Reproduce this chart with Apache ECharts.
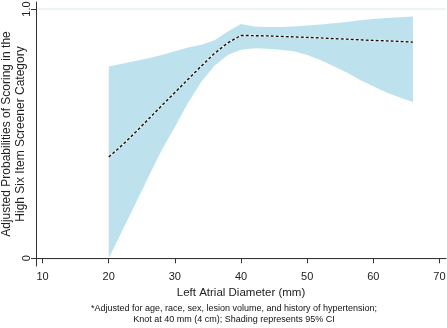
<!DOCTYPE html>
<html>
<head>
<meta charset="utf-8">
<style>
  html, body { margin: 0; padding: 0; background: #fff; }
  #chart { width: 447px; height: 328px; }
</style>
<script src="https://cdn.jsdelivr.net/npm/echarts@6/dist/echarts.min.js"></script>
</head>
<body>
<div id="chart"></div>
<script>
// left atrial diameter (mm)
const diameters = [20, 22, 24, 26, 28, 30, 32, 34, 36, 38, 40, 42, 44, 46, 48, 50, 52, 54, 56, 58, 60, 62, 64, 66];
// adjusted probability (point estimate)
const probability = [0.406, 0.453, 0.504, 0.558, 0.612, 0.665, 0.718, 0.771, 0.822, 0.864, 0.894, 0.893, 0.892, 0.890, 0.888, 0.886, 0.884, 0.881, 0.879, 0.876, 0.874, 0.872, 0.870, 0.867];
// 95% CI
const ciLower = [0.0, 0.108, 0.217, 0.326, 0.433, 0.527, 0.624, 0.708, 0.772, 0.815, 0.836, 0.842, 0.840, 0.836, 0.830, 0.815, 0.795, 0.770, 0.745, 0.715, 0.690, 0.665, 0.645, 0.627];
const ciUpper = [0.769, 0.780, 0.791, 0.802, 0.815, 0.830, 0.845, 0.857, 0.875, 0.910, 0.940, 0.930, 0.928, 0.928, 0.930, 0.934, 0.938, 0.943, 0.948, 0.955, 0.960, 0.964, 0.967, 0.970];

const xTicks = [10, 20, 30, 40, 50, 60, 70];
const yTicks = [0, 1];

const pair = (ys) => diameters.map((x, i) => [x, ys[i]]);
const ciRows = diameters.map((x, i) => [x, ciLower[i], ciUpper[i]]);

const font = 'Liberation Sans, Arial, sans-serif';
const chart = echarts.init(document.getElementById('chart'));

// shaded CI band drawn as one polygon through the axis scales
function renderBand(params, api) {
  if (params.dataIndex !== 0) return null;
  const upper = ciRows.map((r) => api.coord([r[0], r[2]]));
  const lower = ciRows.map((r) => api.coord([r[0], r[1]])).reverse();
  return {
    type: 'polygon',
    shape: { points: upper.concat(lower) },
    style: { fill: '#bee2ed' },
    silent: true,
  };
}

chart.setOption({
  animation: false,
  textStyle: { fontFamily: font },
  grid: { left: 36, right: 1, top: 2, bottom: 62, containLabel: false, outerBoundsMode: 'none' },
  xAxis: {
    type: 'value',
    min: 9,
    max: 71,
    name: 'Left Atrial Diameter (mm)',
    nameLocation: 'middle',
    nameGap: 21,
    nameMoveOverlap: false,
    nameTextStyle: { fontSize: 11.5, color: '#222', fontFamily: font },
    axisLine: { lineStyle: { color: '#333', width: 1 } },
    axisTick: { customValues: xTicks, length: 5, lineStyle: { color: '#333' } },
    axisLabel: {
      customValues: xTicks,
      fontSize: 11,
      color: '#222',
      margin: 5,
      formatter: (v) => String(v),
    },
    splitLine: { show: false },
  },
  yAxis: {
    type: 'value',
    min: -0.031,
    max: 1.028,
    name: 'Adjusted Probabilities of Scoring in the\nHigh Six Item Screener Category',
    nameLocation: 'middle',
    nameRotate: 90,
    nameGap: 8,
    nameMoveOverlap: false,
    nameTextStyle: { fontSize: 12, color: '#222', lineHeight: 14, fontFamily: font },
    axisLine: { show: true, lineStyle: { color: '#333', width: 1 } },
    axisTick: { customValues: yTicks, length: 5, lineStyle: { color: '#333' } },
    axisLabel: {
      customValues: yTicks,
      rotate: 90,
      fontSize: 11,
      color: '#222',
      margin: 4,
      formatter: (v) => (v === 1 ? '1.0' : '0'),
    },
    splitLine: { show: true, lineStyle: { color: '#e6f0f2', width: 1.5 } },
  },
  series: [
    {
      name: 'ci',
      type: 'custom',
      data: ciRows,
      encode: { x: 0, y: [1, 2] },
      renderItem: renderBand,
      silent: true,
    },
    {
      name: 'halo',
      type: 'line',
      data: pair(probability),
      symbol: 'none',
      lineStyle: { color: '#ffffff', width: 1.6 },
      silent: true,
    },
    {
      name: 'probability',
      type: 'line',
      data: pair(probability),
      symbol: 'none',
      lineStyle: { color: '#111', width: 1.4, type: [3, 2] },
    },
  ],
  graphic: [
    {
      type: 'text',
      x: 234,
      y: 304,
      style: {
        text: '*Adjusted for age, race, sex, lesion volume, and history of hypertension;',
        font: '9px ' + font,
        fill: '#111',
        align: 'center',
      },
    },
    {
      type: 'text',
      x: 234,
      y: 315,
      style: {
        text: 'Knot at 40 mm (4 cm); Shading represents 95% CI',
        font: '9px ' + font,
        fill: '#111',
        align: 'center',
      },
    },
  ],
});
</script>
</body>
</html>
